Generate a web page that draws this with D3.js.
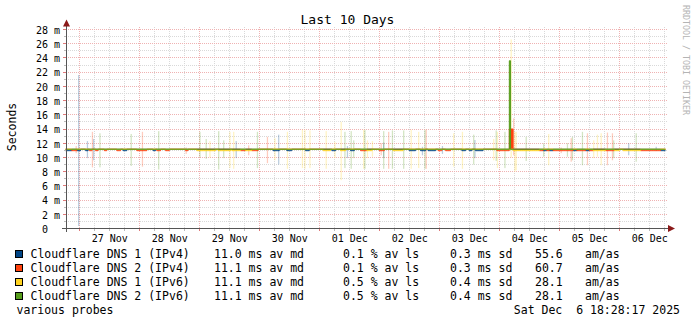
<!DOCTYPE html>
<html>
<head>
<meta charset="utf-8">
<script src="https://cdn.jsdelivr.net/npm/d3@7"></script>
<style>
  body { margin: 0; background: #fff; }
  text { font-family: "DejaVu Sans Mono", monospace; white-space: pre; }
</style>
</head>
<body>
<script>
// ---- data ----
const startTime = "2025-11-26 18:28:17";
const endTime = "2025-12-06 18:28:17";
const dayLabels = ["2025-11-27", "2025-11-28", "2025-11-29", "2025-11-30", "2025-12-01",
                   "2025-12-02", "2025-12-03", "2025-12-04", "2025-12-05", "2025-12-06"];
const yTickValues = [0, 2, 4, 6, 8, 10, 12, 14, 16, 18, 20, 22, 24, 26, 28];

const seriesNames = ["Cloudflare DNS 1 (IPv4)", "Cloudflare DNS 2 (IPv4)",
                     "Cloudflare DNS 1 (IPv6)", "Cloudflare DNS 2 (IPv6)"];
const seriesColors = ["#004586", "#ff420e", "#ffd320", "#579d1c"];
const avgMedian = ["11.0", "11.1", "11.1", "11.1"];
const avgLoss = ["0.1", "0.1", "0.5", "0.5"];
const avgSd = ["0.3", "0.3", "0.4", "0.4"];
const amAs = ["55.6", "60.7", "28.1", "28.1"];

// median (ms), step changes [time, value]
const blueMedian = [
  ["11-26 18:28", 10.95], ["11-26 21:00", 11.15], ["11-26 23:00", 10.95], ["11-27 00:30", 11.15],
  ["11-27 02:30", 10.95], ["11-27 03:30", 11.15], ["11-27 17:30", 10.95], ["11-27 19:00", 11.15],
  ["11-28 05:30", 10.95], ["11-28 06:30", 11.15], ["11-30 05:30", 10.95], ["11-30 08:00", 11.15],
  ["11-30 11:00", 10.95], ["11-30 13:00", 11.15], ["11-30 18:30", 10.95], ["11-30 20:00", 11.15],
  ["12-01 05:00", 10.95], ["12-01 06:30", 11.15], ["12-01 12:30", 10.95], ["12-01 14:00", 11.15],
  ["12-02 12:00", 10.95], ["12-02 14:30", 11.15], ["12-02 16:30", 10.95], ["12-02 18:30", 11.15],
  ["12-02 19:30", 10.95], ["12-02 22:30", 11.15], ["12-03 09:00", 10.95], ["12-03 10:30", 11.15],
  ["12-03 12:00", 10.95], ["12-03 13:00", 11.15], ["12-03 14:30", 10.95], ["12-03 17:30", 11.15],
  ["12-04 17:30", 10.95], ["12-04 19:00", 11.15], ["12-04 20:00", 10.95], ["12-04 21:30", 11.15],
  ["12-05 05:30", 10.95], ["12-05 07:00", 11.15], ["12-05 10:30", 10.95], ["12-05 12:00", 11.15],
  ["12-06 16:30", 10.95]
];
const orangeMedian = [
  ["11-26 18:28", 11.15], ["11-26 21:00", 10.95], ["11-26 23:00", 11.15], ["11-27 04:00", 10.95],
  ["11-27 05:00", 11.15], ["11-27 06:30", 10.95], ["11-27 07:30", 11.15], ["11-27 10:00", 10.95],
  ["11-27 11:00", 11.15], ["11-27 15:00", 10.95], ["11-27 16:30", 11.15], ["11-27 23:00", 10.95],
  ["11-28 03:00", 11.15], ["11-28 07:00", 10.95], ["11-28 08:30", 11.15], ["11-28 10:30", 10.95],
  ["11-28 12:00", 11.15], ["11-28 18:30", 10.95], ["11-28 19:30", 11.15], ["11-29 16:30", 10.95],
  ["11-29 18:30", 11.15], ["11-29 21:00", 10.95], ["11-29 23:30", 11.15], ["12-01 16:30", 10.95],
  ["12-01 19:00", 11.15], ["12-02 00:00", 10.95], ["12-02 02:00", 11.15], ["12-02 23:30", 10.95],
  ["12-03 01:00", 11.15], ["12-03 02:30", 10.95], ["12-03 04:30", 11.15], ["12-03 23:00", 10.95],
  ["12-04 04:00", 14.0], ["12-04 05:30", 11.15], ["12-04 16:00", 10.95], ["12-04 17:30", 11.15],
  ["12-04 19:00", 10.95], ["12-04 20:00", 11.15], ["12-04 21:30", 10.95], ["12-05 05:30", 11.15],
  ["12-05 07:00", 10.95], ["12-05 10:30", 11.15], ["12-05 12:00", 10.95], ["12-05 13:30", 11.15],
  ["12-05 18:30", 10.95], ["12-05 22:00", 11.15], ["12-06 08:30", 10.95], ["12-06 16:30", 11.15]
];
const yellowMedian = [
  ["11-26 18:28", 11.15], ["11-28 23:00", 10.95], ["11-29 06:30", 11.15], ["11-29 07:30", 10.95],
  ["11-29 12:30", 11.15], ["11-29 13:00", 10.95], ["11-29 16:30", 11.15], ["11-29 18:30", 10.95],
  ["11-29 21:00", 11.15], ["12-01 01:30", 10.95], ["12-01 04:30", 11.15], ["12-01 08:30", 10.95],
  ["12-01 10:30", 11.15], ["12-01 19:00", 10.95], ["12-01 21:00", 11.15], ["12-02 05:30", 10.95],
  ["12-02 09:30", 11.15], ["12-04 05:30", 10.95], ["12-04 16:00", 11.15], ["12-05 13:30", 10.95],
  ["12-05 18:30", 11.15], ["12-05 22:00", 10.95], ["12-06 00:00", 11.15], ["12-06 01:30", 10.95],
  ["12-06 08:30", 11.15]
];
const greenMedian = [
  ["11-26 18:28", 11.15], ["12-04 04:00", 23.6], ["12-04 04:30", 11.15]
];

// smoke: [time, low ms, high ms]
const blueSmoke = [
  ["11-26 23:30", 0.35, 21.6], ["11-27 03:00", 9.9, 12.3], ["11-27 05:30", 9.6, 12.6],
  ["11-29 14:30", 9.9, 12.3], ["11-30 07:30", 9.0, 13.2], ["12-01 11:00", 9.9, 11.6],
  ["12-02 01:30", 9.9, 12.1], ["12-02 17:00", 10.3, 11.5], ["12-03 01:00", 10.5, 11.6],
  ["12-03 14:00", 9.9, 12.45], ["12-06 03:30", 10.3, 12.0], ["12-06 14:30", 10.9, 11.5]
];
const orangeSmoke = [
  ["11-26 22:30", 10.6, 11.6], ["11-27 05:00", 8.6, 13.6], ["11-28 01:00", 8.7, 13.6],
  ["11-28 18:30", 10.5, 11.4], ["11-29 19:30", 10.3, 11.7], ["11-30 03:00", 9.2, 12.9],
  ["12-02 00:30", 10.3, 12.0], ["12-02 03:30", 8.4, 13.6], ["12-02 18:30", 8.4, 13.9],
  ["12-04 05:30", 10.3, 15.5], ["12-05 00:30", 10.6, 11.4], ["12-05 04:30", 9.4, 12.7],
  ["12-05 11:00", 8.9, 13.4], ["12-05 19:00", 8.9, 13.5], ["12-05 21:00", 9.6, 13.4]
];
const yellowSmoke = [
  ["11-29 04:00", 10.0, 12.3], ["11-29 12:00", 8.5, 13.6], ["11-29 13:30", 8.4, 13.6],
  ["11-30 06:00", 9.6, 12.7], ["11-30 11:00", 8.4, 13.6], ["11-30 17:00", 8.5, 13.9],
  ["11-30 18:00", 8.4, 13.9], ["11-30 20:00", 8.5, 13.8], ["12-01 02:30", 8.4, 13.7],
  ["12-01 06:00", 9.9, 12.2], ["12-01 08:30", 6.8, 15.0], ["12-01 17:30", 8.4, 13.9],
  ["12-01 19:00", 9.9, 12.4], ["12-01 21:00", 10.1, 12.3], ["12-02 12:30", 8.4, 13.9],
  ["12-02 15:30", 8.5, 13.6], ["12-03 05:30", 8.7, 13.4], ["12-03 09:00", 8.4, 13.6],
  ["12-03 21:30", 9.6, 12.6], ["12-03 23:00", 8.5, 13.6], ["12-04 04:30", 10.0, 26.6],
  ["12-04 06:00", 8.0, 13.6], ["12-04 06:30", 8.2, 13.6], ["12-04 19:30", 8.9, 13.3],
  ["12-05 13:30", 9.9, 12.4], ["12-05 15:00", 10.1, 13.2], ["12-05 16:30", 8.9, 13.4]
];
const greenSmoke = [
  ["11-27 08:00", 8.6, 13.4], ["11-27 20:30", 8.8, 13.3], ["11-28 07:30", 8.3, 13.7],
  ["11-29 00:00", 10.0, 13.6], ["11-29 02:30", 9.8, 12.6], ["11-29 07:30", 8.3, 13.7],
  ["11-29 09:30", 9.9, 12.4], ["11-29 23:00", 8.5, 13.6], ["12-01 10:00", 8.5, 13.6],
  ["12-01 12:30", 8.4, 13.7], ["12-01 13:30", 9.9, 12.4], ["12-01 18:00", 8.4, 13.9],
  ["12-02 01:30", 8.4, 13.7], ["12-02 05:00", 8.4, 13.8], ["12-02 09:30", 8.4, 13.8],
  ["12-02 18:00", 8.4, 13.9], ["12-03 13:30", 9.0, 13.2], ["12-03 22:30", 9.5, 13.8],
  ["12-04 02:00", 8.5, 13.6], ["12-04 10:30", 9.5, 12.9], ["12-04 17:30", 10.1, 12.0],
  ["12-05 03:00", 10.1, 12.0], ["12-05 05:00", 9.6, 12.9], ["12-05 09:00", 8.9, 13.6],
  ["12-05 21:30", 9.9, 12.4], ["12-06 06:30", 9.4, 13.4]
];

const medians = [blueMedian, orangeMedian, yellowMedian, greenMedian];
const smokes = [blueSmoke, orangeSmoke, yellowSmoke, greenSmoke];

// ---- drawing ----
const width = 697, height = 324;
const plotLeft = 65.5, plotRight = 665.5, plotBottom = 228.5;
const baseLevel = 11.15; // median lines sit here; anything above is filled as a spike

const parseFull = d3.timeParse("%Y-%m-%d %H:%M:%S");
const parseDay = d3.timeParse("%Y-%m-%d");
const parseShort = s => d3.timeParse("%Y-%m-%d %H:%M")("2025-" + s);

const t0 = parseFull(startTime), t1 = parseFull(endTime);

const x = d3.scaleTime().domain([t0, t1]).range([plotLeft, plotRight]);
const y = d3.scaleLinear().domain([0, 28]).range([plotBottom, 29.5]);

const svg = d3.select("body").append("svg")
              .attr("width", width)
              .attr("height", height);

svg.append("rect").attr("width", width).attr("height", height).attr("fill", "#fff");

const px = v => Math.floor(v) + 0.5;

// grid
const grid = svg.append("g").attr("shape-rendering", "crispEdges").attr("stroke-dasharray", "1,1");
const minorY = d3.range(1, 28.5, 1).filter(v => v % 2 !== 0);
grid.selectAll(".hmin").data(minorY).enter().append("line")
    .attr("x1", 66).attr("x2", plotRight + 1)
    .attr("y1", d => px(y(d))).attr("y2", d => px(y(d)))
    .attr("stroke", "#d9d9d9");
const hours6 = d3.timeHour.every(6).range(t0, t1).filter(d => d.getHours() !== 0);
grid.selectAll(".vmin").data(hours6).enter().append("line")
    .attr("x1", d => px(x(d))).attr("x2", d => px(x(d)))
    .attr("y1", 27).attr("y2", plotBottom)
    .attr("stroke", "#d9d9d9");
grid.selectAll(".hmaj").data(yTickValues.filter(v => v > 0)).enter().append("line")
    .attr("x1", 66).attr("x2", plotRight + 1)
    .attr("y1", d => px(y(d))).attr("y2", d => px(y(d)))
    .attr("stroke", "#efb2b2");
const days = d3.timeDay.range(t0, t1);
grid.selectAll(".vmaj").data(days).enter().append("line")
    .attr("x1", d => px(x(d))).attr("x2", d => px(x(d)))
    .attr("y1", 27).attr("y2", plotBottom)
    .attr("stroke", "#efb2b2");

// smoke
const smokeWidth = x(d3.timeMinute.offset(t0, 30)) - x(t0);
smokes.forEach((list, i) => {
  svg.append("g").selectAll("rect").data(list).enter().append("rect")
     .attr("x", d => x(parseShort(d[0])))
     .attr("width", smokeWidth)
     .attr("y", d => y(d[2]))
     .attr("height", d => y(d[1]) - y(d[2]))
     .attr("fill", seriesColors[i])
     .attr("fill-opacity", 0.27);
});

// medians
medians.forEach((list, i) => {
  const pts = list.map(d => [parseShort(d[0]), d[1]]);
  pts.push([t1, pts[pts.length - 1][1]]);
  const area = d3.area().curve(d3.curveStepAfter)
                 .x(d => x(d[0]))
                 .y0(y(baseLevel))
                 .y1(d => y(Math.max(d[1], baseLevel)));
  svg.append("path").datum(pts).attr("d", area).attr("fill", seriesColors[i]);
  const line = d3.line().curve(d3.curveStepAfter)
                 .x(d => x(d[0]))
                 .y(d => y(d[1]));
  svg.append("path").datum(pts).attr("d", line)
     .attr("fill", "none").attr("stroke", seriesColors[i]).attr("stroke-width", 1);
});

// axes lines + small ticks
const axisG = svg.append("g").attr("shape-rendering", "crispEdges");
axisG.selectAll(".xt").data(hours6).enter().append("line")
     .attr("x1", d => px(x(d))).attr("x2", d => px(x(d)))
     .attr("y1", plotBottom).attr("y2", plotBottom + 2.5).attr("stroke", "#bbb");
axisG.selectAll(".xT").data(days).enter().append("line")
     .attr("x1", d => px(x(d))).attr("x2", d => px(x(d)))
     .attr("y1", plotBottom).attr("y2", plotBottom + 2.5).attr("stroke", "#e07a7a");
axisG.selectAll(".yt").data(minorY).enter().append("line")
     .attr("x1", 63.5).attr("x2", 66).attr("y1", d => px(y(d))).attr("y2", d => px(y(d)))
     .attr("stroke", "#bbb");
axisG.selectAll(".yT").data(yTickValues.filter(v => v > 0)).enter().append("line")
     .attr("x1", 63).attr("x2", 66).attr("y1", d => px(y(d))).attr("y2", d => px(y(d)))
     .attr("stroke", "#e07a7a");
axisG.append("line").attr("x1", 62).attr("x2", 669).attr("y1", 228.5).attr("y2", 228.5)
     .attr("stroke", "#555");
axisG.append("line").attr("x1", 66.5).attr("x2", 66.5).attr("y1", 232).attr("y2", 24)
     .attr("stroke", "#555");
svg.append("path").attr("d", "M63,26.5 L70,26.5 L66.5,19.5 Z").attr("fill", "#8b1a1a");
svg.append("path").attr("d", "M668,225 L668,232 L675,228.5 Z").attr("fill", "#8b1a1a");

// tick labels via d3 axes
const noons = dayLabels.map(d => d3.timeHour.offset(parseDay(d), 12));
const xAxis = svg.append("g").attr("transform", `translate(0,${plotBottom})`)
  .call(d3.axisBottom(x).tickValues(noons).tickFormat(d3.timeFormat("%d %b")).tickSize(0).tickPadding(6));
xAxis.select(".domain").remove();
xAxis.selectAll("text").attr("font-family", "DejaVu Sans Mono").attr("font-size", 10).attr("fill", "#000");

const yAxis = svg.append("g").attr("transform", "translate(60,0)")
  .call(d3.axisLeft(y).tickValues(yTickValues).tickFormat(v => v === 0 ? "0" : v + " m").tickSize(0).tickPadding(0));
yAxis.select(".domain").remove();
yAxis.selectAll("text").attr("font-family", "DejaVu Sans Mono").attr("font-size", 10)
     .attr("fill", "#000").attr("dy", "0.38em")
     .attr("x", v => v === 0 ? -12 : 0);

// title, axis label, watermark
svg.append("text").attr("x", 347.5).attr("y", 23.5).attr("text-anchor", "middle")
   .attr("font-size", 13).attr("fill", "#000").text("Last 10 Days");
svg.append("text").attr("transform", "translate(15.5,127) rotate(-90)").attr("text-anchor", "middle")
   .attr("font-size", 11.5).attr("fill", "#000").text("Seconds");
svg.append("text").attr("transform", "translate(683,5) rotate(90)")
   .attr("font-size", 8.3).attr("fill", "#b4b4b4").text("RRDTOOL / TOBI OETIKER");

// legend
const legend = svg.append("g").attr("font-size", 11.5).attr("fill", "#000");
seriesNames.forEach((name, i) => {
  const base = 258 + i * 14;
  legend.append("rect").attr("x", 15.5).attr("y", base - 7.5).attr("width", 7).attr("height", 7)
        .attr("fill", seriesColors[i]).attr("stroke", "#000").attr("stroke-width", 1);
  legend.append("text").attr("x", 30.5).attr("y", base).text(name);
  legend.append("text").attr("x", 214).attr("y", base).text(avgMedian[i] + " ms av md");
  legend.append("text").attr("x", 343).attr("y", base).text(avgLoss[i] + " % av ls");
  legend.append("text").attr("x", 450).attr("y", base).text(avgSd[i] + " ms sd");
  legend.append("text").attr("x", 535).attr("y", base).text(amAs[i]);
  legend.append("text").attr("x", 585).attr("y", base).text("am/as");
});
legend.append("text").attr("x", 16.5).attr("y", 313.5).text("various probes");
legend.append("text").attr("x", 680).attr("y", 313.5).attr("text-anchor", "end")
      .text(d3.timeFormat("%a %b %e %H:%M:%S %Y")(t1));
</script>
</body>
</html>
